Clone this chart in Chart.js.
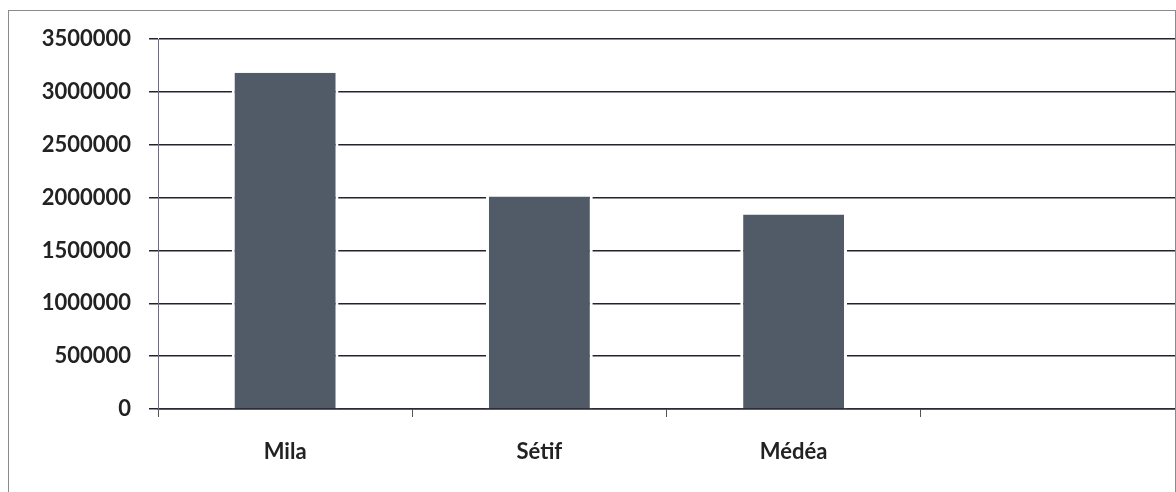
<!DOCTYPE html>
<html>
<head>
<meta charset="utf-8">
<script src="https://cdn.jsdelivr.net/npm/chart.js@4/dist/chart.umd.min.js"></script>
<style>
  html, body { margin: 0; padding: 0; background: #fff; }
  #wrap { position: relative; width: 1176px; height: 492px; overflow: hidden; }
  #frame { position: absolute; left: 8px; top: 10px; width: 1166px; height: 500px;
           border: 1.5px solid #8a8a90; pointer-events: none; }
  canvas { position: absolute; left: 0; top: 0; }
</style>
</head>
<body>
<div id="wrap">
  <canvas id="c" width="1176" height="492"></canvas>
  <div id="frame"></div>
</div>
<script>
const categories = ["Mila", "Sétif", "Médéa", ""];
const values = [3180000, 2010000, 1840000, null];
const yTicks = [0, 500000, 1000000, 1500000, 2000000, 2500000, 3000000, 3500000];

const fontFamily = "Lato, 'Open Sans', sans-serif";

new Chart(document.getElementById('c'), {
  type: 'bar',
  data: {
    labels: categories,
    datasets: [{
      data: values,
      backgroundColor: '#505b67',
      borderColor: '#ffffff',
      borderWidth: { left: 3, right: 3, top: 0, bottom: 0 },
      barPercentage: 0.42,
      categoryPercentage: 1.0
    }]
  },
  options: {
    responsive: false,
    animation: false,
    layout: { padding: { top: 39, right: 1, left: 0, bottom: 0 } },
    plugins: { legend: { display: false }, tooltip: { enabled: false } },
    scales: {
      x: {
        offset: true,
        grid: {
          offset: true,
          drawOnChartArea: false,
          drawTicks: true,
          tickLength: 8,
          color: '#555'
        },
        border: { display: true, color: '#2a2a35', width: 1.5 },
        ticks: {
          padding: 22,
          color: '#222',
          font: { family: fontFamily, size: 22, weight: 'bold' }
        },
        afterFit: s => { s.height = 83; }
      },
      y: {
        min: 0,
        max: 3500000,
        afterBuildTicks: s => { s.ticks = yTicks.map(v => ({ value: v })); },
        grid: {
          color: '#23232f',
          lineWidth: 1.5,
          drawTicks: true,
          tickLength: 9
        },
        border: { display: true, color: '#6b6b8c', width: 1 },
        ticks: {
          padding: 18,
          color: '#222',
          font: { family: fontFamily, size: 22, weight: 'bold' },
          callback: v => String(v)
        },
        afterFit: s => { s.width = 158; }
      }
    }
  }
});
</script>
</body>
</html>
